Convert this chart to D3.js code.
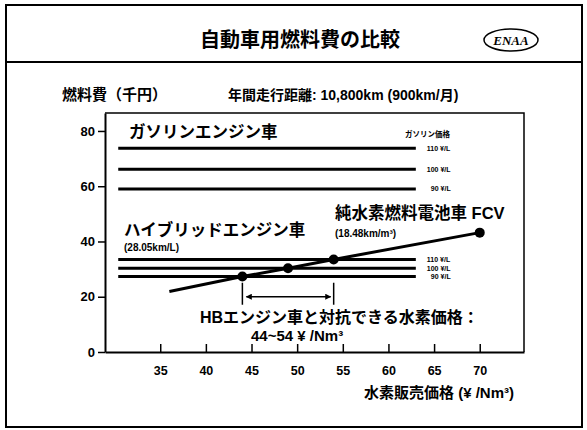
<!DOCTYPE html>
<html>
<head>
<meta charset="utf-8">
<script src="https://cdn.jsdelivr.net/npm/d3@7"></script>
<style>
  html, body { margin: 0; padding: 0; background: #fff; }
  svg { display: block; }
  text { font-family: "Liberation Sans", Arial, "Noto Sans CJK JP", sans-serif; font-weight: bold; fill: #000; }
</style>
</head>
<body>
<svg id="chart" width="587" height="430"></svg>
<script>
// Fuel cost per year (thousand yen), 10,800 km driven
const xTicks = [35, 40, 45, 50, 55, 60, 65, 70];
const yTicks = [0, 20, 40, 60, 80];

// Gasoline engine car at 110 / 100 / 90 yen per litre
const gasolinePrices = ["110 ¥/L", "100 ¥/L", "90 ¥/L"];
const gasolineCost = [73.7, 66.1, 59.0];

// Hybrid engine car (28.05 km/L) at 110 / 100 / 90 yen per litre
const hybridPrices = ["110 ¥/L", "100 ¥/L", "90 ¥/L"];
const hybridCost = [33.5, 30.3, 27.3];

// Horizontal extent of the gasoline / hybrid reference lines (¥/Nm³ axis)
const refSpan = [30.4, 63.0];

// Pure hydrogen fuel cell vehicle (18.48 km/m³): hydrogen price vs. fuel cost
const fcvPrice = [36, 44, 49, 54, 70];
const fcvCost = [21.9, 27.3, 30.3, 33.5, 43.2];
const fcvDots = [44, 49, 54, 70];

// Hydrogen price range competitive with the hybrid car
const competitiveRange = [44, 54];
const rangeArrowLevel = 20;

const svg = d3.select("#chart");
const cjk = '"Noto Sans CJK JP", "Liberation Sans", sans-serif';

// Outer frame and header
svg.append("rect").attr("x", 6).attr("y", 5).attr("width", 576).attr("height", 422)
  .attr("fill", "none").attr("stroke", "#000").attr("stroke-width", 2);
svg.append("line").attr("x1", 6).attr("x2", 582).attr("y1", 62).attr("y2", 62)
  .attr("stroke", "#000").attr("stroke-width", 2);
svg.append("text").attr("x", 300).attr("y", 47).attr("text-anchor", "middle")
  .style("font-family", cjk).style("font-size", "20px").text("自動車用燃料費の比較");
svg.append("ellipse").attr("cx", 511).attr("cy", 40).attr("rx", 27).attr("ry", 11)
  .attr("fill", "none").attr("stroke", "#000").attr("stroke-width", 1.5);
svg.append("text").attr("x", 511).attr("y", 45).attr("text-anchor", "middle")
  .style("font-family", '"Liberation Serif", serif').style("font-style", "italic")
  .style("font-size", "13px").text("ENAA");

svg.append("text").attr("x", 62).attr("y", 100)
  .style("font-family", cjk).style("font-size", "15px").text("燃料費（千円）");
svg.append("text").attr("x", 228).attr("y", 100).style("font-size", "14px")
  .text("年間走行距離: 10,800km (900km/月)");

// Scales
const x = d3.scaleLinear().domain([28.95, 74.85]).range([105, 524]);
const y = d3.scaleLinear().domain([0, 86.5]).range([352, 113]);

// Plot box (top and right)
svg.append("path")
  .attr("d", `M${x.range()[0]},${y.range()[1]}H${x.range()[1]}V${y.range()[0]}`)
  .attr("fill", "none").attr("stroke", "#000").attr("stroke-width", 1.5);

// Y axis (ticks outward)
const yAxis = svg.append("g").attr("transform", `translate(${x.range()[0]},0)`)
  .call(d3.axisLeft(y).tickValues(yTicks).tickSize(7).tickPadding(3).tickSizeOuter(0));
yAxis.select(".domain").attr("stroke-width", 2);
yAxis.selectAll(".tick line").attr("stroke-width", 1.5);
yAxis.selectAll(".tick text").style("font-size", "13px").style("font-weight", "bold")
  .style("font-family", '"Liberation Sans", Arial, sans-serif');

// X axis (ticks inward)
const xAxis = svg.append("g").attr("transform", `translate(0,${y.range()[0]})`)
  .call(d3.axisBottom(x).tickValues(xTicks).tickSizeInner(-8).tickSizeOuter(0).tickPadding(14));
xAxis.select(".domain").attr("stroke-width", 2);
xAxis.selectAll(".tick line").attr("stroke-width", 1.5);
xAxis.selectAll(".tick text").style("font-size", "12.5px").style("font-weight", "bold")
  .style("font-family", '"Liberation Sans", Arial, sans-serif');
svg.select("g").selectAll("path.domain");

svg.append("text").attr("x", 514).attr("y", 398).attr("text-anchor", "end")
  .style("font-size", "15px").text("水素販売価格 (¥ /Nm³)");

// Reference lines: gasoline and hybrid fuel cost
function refLines(costs, labels, cls) {
  const g = svg.append("g").attr("class", cls);
  g.selectAll("line").data(costs).join("line")
    .attr("x1", x(refSpan[0])).attr("x2", x(refSpan[1]))
    .attr("y1", d => y(d)).attr("y2", d => y(d))
    .attr("stroke", "#000").attr("stroke-width", 3);
  g.selectAll("text").data(costs).join("text")
    .attr("x", (d, i) => x(refSpan[1]) + (i === 2 ? 15 : 11))
    .attr("y", d => y(d) + 2.5)
    .style("font-size", "7px")
    .text((d, i) => labels[i]);
}
refLines(gasolineCost, gasolinePrices, "gasoline");
refLines(hybridCost, hybridPrices, "hybrid");

svg.append("text").attr("x", 405).attr("y", 137)
  .style("font-family", cjk).style("font-size", "7.5px").text("ガソリン価格");

svg.append("text").attr("x", 129).attr("y", 138)
  .style("font-family", cjk).style("font-size", "16.5px").text("ガソリンエンジン車");
svg.append("text").attr("x", 124).attr("y", 236)
  .style("font-family", cjk).style("font-size", "16.5px").text("ハイブリッドエンジン車");
svg.append("text").attr("x", 124).attr("y", 251).style("font-size", "10px").text("(28.05km/L)");

// FCV cost line and markers
svg.append("path")
  .datum(fcvPrice.map((p, i) => [p, fcvCost[i]]))
  .attr("d", d3.line().x(d => x(d[0])).y(d => y(d[1])))
  .attr("fill", "none").attr("stroke", "#000").attr("stroke-width", 3);
svg.append("g").selectAll("circle").data(fcvDots).join("circle")
  .attr("cx", d => x(d)).attr("cy", d => y(fcvCost[fcvPrice.indexOf(d)]))
  .attr("r", 5).attr("fill", "#000");

svg.append("text").attr("x", 335).attr("y", 219).style("font-size", "16.5px")
  .text("純水素燃料電池車 FCV");
svg.append("text").attr("x", 335).attr("y", 237).style("font-size", "10px").text("(18.48km/m³)");

// Competitive price range bracket
const ay = y(rangeArrowLevel);
const br = svg.append("g");
competitiveRange.forEach(v => {
  br.append("line").attr("x1", x(v)).attr("x2", x(v)).attr("y1", ay - 14).attr("y2", ay + 8)
    .attr("stroke", "#000").attr("stroke-width", 1.5);
});
const defs = svg.append("defs");
defs.append("marker").attr("id", "ah").attr("viewBox", "0 0 10 10").attr("refX", 9).attr("refY", 5)
  .attr("markerWidth", 8).attr("markerHeight", 6).attr("markerUnits", "userSpaceOnUse")
  .attr("orient", "auto-start-reverse")
  .append("path").attr("d", "M0,0L10,5L0,10Z").attr("fill", "#000");
br.append("line")
  .attr("x1", x(competitiveRange[0]) + 4).attr("x2", x(competitiveRange[1]) - 3)
  .attr("y1", ay).attr("y2", ay)
  .attr("stroke", "#000").attr("stroke-width", 1.5)
  .attr("marker-start", "url(#ah)").attr("marker-end", "url(#ah)");

svg.append("text").attr("x", 200).attr("y", 323).style("font-size", "16px")
  .text("HBエンジン車と対抗できる水素価格：");
svg.append("text").attr("x", 251).attr("y", 341).style("font-size", "15px")
  .text(`${competitiveRange[0]}~${competitiveRange[1]} ¥ /Nm³`);
</script>
</body>
</html>
